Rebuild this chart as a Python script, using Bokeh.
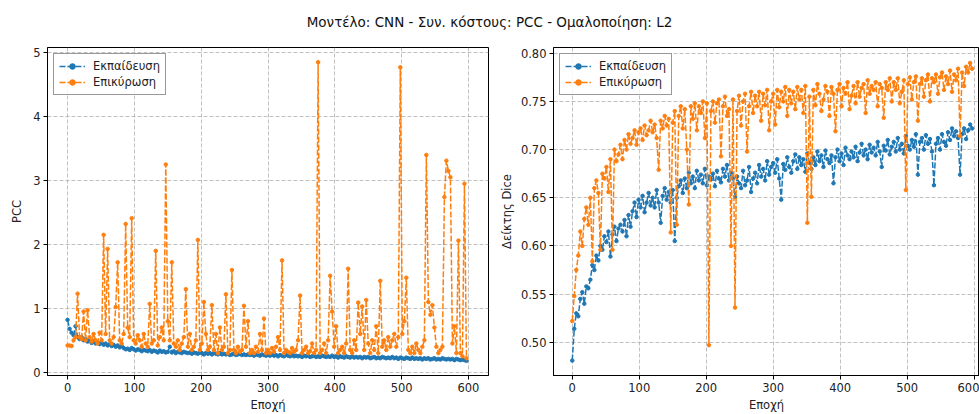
from bokeh.plotting import figure
from bokeh.layouts import column, row
from bokeh.models import Div, Range1d, FixedTicker, PrintfTickFormatter
from bokeh.embed import file_html
from bokeh.resources import INLINE

TITLE = "Μοντέλο: CNN - Συν. κόστους: PCC - Ομαλοποίηση: L2"
LEG_TRAIN = "Εκπαίδευση"
LEG_VAL = "Επικύρωση"
XLABEL = "Εποχή"
YLABEL_L = "PCC"
YLABEL_R = "Δείκτης Dice"

STEP = 3  # one sample every 3 epochs

pcc_train = [
    0.82, 0.68, 0.62, 0.58, 0.72, 0.55, 0.52, 0.55, 0.50, 0.52,
    0.48, 0.50, 0.46, 0.49, 0.45, 0.47, 0.44, 0.46, 0.43, 0.45,
    0.42, 0.44, 0.41, 0.43, 0.40, 0.42, 0.39, 0.41, 0.38, 0.36,
    0.37, 0.35, 0.38, 0.36, 0.34, 0.36, 0.35, 0.33, 0.35, 0.34,
    0.33, 0.35, 0.32, 0.34, 0.33, 0.31, 0.34, 0.32, 0.33, 0.31,
    0.32, 0.40, 0.31, 0.33, 0.30, 0.32, 0.31, 0.30, 0.32, 0.31,
    0.30, 0.31, 0.29, 0.31, 0.30, 0.29, 0.31, 0.30, 0.28, 0.30,
    0.29, 0.30, 0.28, 0.30, 0.29, 0.28, 0.30, 0.28, 0.29, 0.28,
    0.29, 0.27, 0.28, 0.29, 0.27, 0.28, 0.29, 0.27, 0.28, 0.27,
    0.28, 0.27, 0.28, 0.26, 0.28, 0.27, 0.26, 0.28, 0.27, 0.26,
    0.27, 0.26, 0.28, 0.26, 0.27, 0.25, 0.27, 0.26, 0.25, 0.27,
    0.26, 0.25, 0.27, 0.25, 0.26, 0.25, 0.26, 0.24, 0.26, 0.25,
    0.26, 0.24, 0.25, 0.26, 0.24, 0.25, 0.24, 0.26, 0.25, 0.24,
    0.25, 0.24, 0.26, 0.24, 0.25, 0.23, 0.25, 0.24, 0.23, 0.25,
    0.24, 0.23, 0.25, 0.23, 0.24, 0.23, 0.24, 0.22, 0.24, 0.23,
    0.24, 0.22, 0.23, 0.24, 0.22, 0.23, 0.22, 0.24, 0.23, 0.22,
    0.23, 0.22, 0.24, 0.22, 0.23, 0.21, 0.23, 0.22, 0.21, 0.23,
    0.22, 0.21, 0.23, 0.21, 0.22, 0.21, 0.22, 0.20, 0.22, 0.21,
    0.22, 0.20, 0.21, 0.22, 0.20, 0.21, 0.20, 0.22, 0.21, 0.20,
    0.21, 0.20, 0.21, 0.19, 0.21, 0.20, 0.19, 0.20, 0.19, 0.18,
]

pcc_val = [
    0.42, 0.42, 0.41, 0.50, 0.55, 1.23, 0.55, 0.52, 0.95, 0.50,
    0.97, 0.55, 0.48, 0.60, 0.50, 0.45, 0.62, 0.50, 2.15, 0.60,
    1.93, 0.50, 0.45, 0.55, 1.02, 1.72, 0.50, 0.45, 0.60, 2.32,
    0.70, 0.55, 2.41, 0.50, 0.45, 0.58, 0.50, 0.40, 0.60, 0.45,
    0.40, 1.07, 0.45, 0.50, 1.90, 0.42, 0.55, 0.70, 0.50, 3.25,
    0.80, 0.50, 1.72, 0.45, 0.40, 0.50, 0.35, 0.45, 0.55, 1.30,
    0.40, 0.60, 0.35, 0.40, 0.50, 2.07, 0.35, 0.45, 1.10, 0.60,
    0.35, 0.40, 1.05, 0.35, 0.60, 0.30, 0.70, 0.35, 0.40, 1.22,
    0.30, 0.35, 1.60, 0.35, 0.30, 0.40, 0.32, 0.35, 1.04, 0.40,
    0.80, 0.30, 0.35, 0.30, 0.40, 0.32, 0.60, 0.35, 0.84, 0.30,
    0.35, 0.30, 0.38, 0.32, 0.40, 0.55, 0.35, 1.75, 0.30, 0.35,
    0.32, 0.30, 0.38, 0.32, 0.35, 0.50, 1.20, 0.30, 0.35, 0.40,
    0.30, 0.33, 0.45, 0.30, 0.35, 4.85, 0.30, 0.35, 0.45, 0.30,
    0.50, 1.51, 0.95, 0.40, 0.72, 0.30, 0.35, 0.40, 0.30, 0.45,
    1.62, 0.35, 0.30, 0.50, 0.35, 1.09, 0.60, 1.03, 0.35, 1.13,
    0.45, 0.30, 0.50, 0.35, 0.72, 0.30, 1.43, 0.40, 0.50, 0.35,
    0.55, 0.40, 0.50, 0.60, 0.40, 0.55, 4.77, 0.60, 0.80, 1.48,
    0.35, 0.30, 0.40, 0.30, 0.45, 0.35, 0.30, 0.40, 0.50, 3.40,
    1.10, 0.90, 1.05, 0.70, 0.40, 0.30, 0.35, 0.40, 2.74, 3.31,
    3.15, 3.05, 0.45, 0.72, 0.30, 2.06, 0.30, 0.25, 2.95, 0.22,
]

dice_train = [
    0.481, 0.514, 0.530, 0.527, 0.545, 0.552, 0.540, 0.558, 0.556, 0.565,
    0.580, 0.575, 0.590, 0.585, 0.600, 0.596, 0.610, 0.604, 0.615, 0.589,
    0.612, 0.620, 0.605, 0.618, 0.622, 0.615, 0.627, 0.610, 0.632, 0.620,
    0.636, 0.645, 0.630, 0.648, 0.640, 0.652, 0.635, 0.645, 0.655, 0.642,
    0.650, 0.640, 0.658, 0.645, 0.624, 0.652, 0.660, 0.648, 0.656, 0.645,
    0.658, 0.605, 0.650, 0.662, 0.668, 0.655, 0.670, 0.660, 0.676, 0.665,
    0.672, 0.660, 0.678, 0.668, 0.674, 0.665, 0.680, 0.663, 0.672, 0.669,
    0.675, 0.662, 0.678, 0.670, 0.666, 0.680, 0.672, 0.684, 0.668, 0.676,
    0.670, 0.651, 0.672, 0.665, 0.660, 0.678, 0.663, 0.668, 0.682, 0.656,
    0.670, 0.676, 0.665, 0.684, 0.672, 0.680, 0.668, 0.688, 0.674, 0.682,
    0.686, 0.676, 0.690, 0.670, 0.648, 0.685, 0.679, 0.692, 0.682, 0.676,
    0.688, 0.695, 0.680, 0.692, 0.684, 0.690, 0.677, 0.696, 0.686, 0.680,
    0.692, 0.684, 0.698, 0.688, 0.694, 0.682, 0.699, 0.690, 0.686, 0.694,
    0.665, 0.692, 0.700, 0.688, 0.696, 0.684, 0.702, 0.694, 0.690, 0.698,
    0.692, 0.703, 0.688, 0.697, 0.706, 0.694, 0.700, 0.690, 0.705, 0.697,
    0.702, 0.694, 0.708, 0.698, 0.682, 0.704, 0.699, 0.710, 0.695, 0.703,
    0.708, 0.698, 0.712, 0.700, 0.706, 0.696, 0.714, 0.704, 0.700, 0.710,
    0.703, 0.716, 0.674, 0.708, 0.712, 0.700, 0.715, 0.706, 0.711, 0.698,
    0.663, 0.706, 0.712, 0.700, 0.716, 0.708, 0.704, 0.718, 0.710, 0.722,
    0.714, 0.719, 0.712, 0.674, 0.716, 0.722, 0.711, 0.720, 0.726, 0.722,
]

dice_val = [
    0.522, 0.548, 0.575, 0.590, 0.615, 0.600, 0.628, 0.640, 0.622, 0.650,
    0.584, 0.660, 0.668, 0.655, 0.596, 0.675, 0.670, 0.682, 0.656, 0.690,
    0.596, 0.700, 0.688, 0.695, 0.705, 0.690, 0.710, 0.700, 0.716, 0.706,
    0.712, 0.720, 0.705, 0.718, 0.722, 0.710, 0.725, 0.715, 0.720, 0.730,
    0.718, 0.726, 0.712, 0.679, 0.730, 0.722, 0.735, 0.725, 0.732, 0.614,
    0.728, 0.740, 0.622, 0.735, 0.745, 0.722, 0.742, 0.700, 0.643, 0.745,
    0.732, 0.748, 0.720, 0.745, 0.738, 0.750, 0.712, 0.748, 0.497, 0.740,
    0.750, 0.728, 0.748, 0.752, 0.693, 0.745, 0.755, 0.735, 0.742, 0.600,
    0.752, 0.536, 0.740, 0.756, 0.725, 0.750, 0.758, 0.698, 0.745, 0.760,
    0.738, 0.756, 0.745, 0.760, 0.730, 0.758, 0.746, 0.762, 0.720, 0.750,
    0.758, 0.726, 0.762, 0.744, 0.760, 0.750, 0.765, 0.735, 0.762, 0.748,
    0.760, 0.742, 0.765, 0.752, 0.762, 0.738, 0.766, 0.624, 0.755, 0.651,
    0.762, 0.746, 0.768, 0.758, 0.740, 0.752, 0.766, 0.760, 0.735, 0.765,
    0.758, 0.719, 0.762, 0.768, 0.745, 0.764, 0.758, 0.770, 0.742, 0.756,
    0.766, 0.748, 0.770, 0.755, 0.764, 0.768, 0.738, 0.772, 0.758, 0.766,
    0.762, 0.770, 0.745, 0.768, 0.764, 0.733, 0.770, 0.762, 0.774, 0.750,
    0.770, 0.762, 0.774, 0.748, 0.760, 0.772, 0.658, 0.768, 0.775, 0.752,
    0.770, 0.776, 0.730, 0.768, 0.774, 0.755, 0.772, 0.778, 0.750, 0.774,
    0.770, 0.778, 0.758, 0.775, 0.780, 0.762, 0.776, 0.768, 0.782, 0.760,
    0.778, 0.772, 0.784, 0.714, 0.780, 0.766, 0.786, 0.780, 0.790, 0.784,
]

epochs = list(range(0, STEP * len(pcc_train), STEP))

x_ticks = [0, 100, 200, 300, 400, 500, 600]
y_ticks_l = [0, 1, 2, 3, 4, 5]
y_ticks_r = [0.50, 0.55, 0.60, 0.65, 0.70, 0.75, 0.80]

BLUE = "#1f77b4"
ORANGE = "#ff7f0e"
FONT = "DejaVu Sans"
FS = "11.5px"


def make_fig(width, bl, br, xr, yr, yticks, ylabel, ytrain, yval, fmt=None, lab_standoff=6):
    p = figure(width=width, height=374, output_backend="svg", toolbar_location=None,
               x_range=Range1d(*xr), y_range=Range1d(*yr), margin=0,
               min_border_left=bl, min_border_right=br, min_border_top=7, min_border_bottom=38)
    p.outline_line_color = "black"
    p.outline_line_width = 1
    p.background_fill_color = "white"
    p.border_fill_color = "white"
    for ax in (p.xaxis[0], p.yaxis[0]):
        ax.major_tick_in = 0
        ax.major_tick_out = 4
        ax.minor_tick_line_color = None
        ax.axis_line_color = "black"
        ax.major_tick_line_color = "black"
        ax.major_label_text_font = FONT
        ax.major_label_text_font_size = FS
        ax.major_label_text_color = "#222222"
        ax.axis_label_text_font = FONT
        ax.axis_label_text_font_size = FS
        ax.axis_label_text_font_style = "normal"
        ax.axis_label_text_color = "#222222"
        ax.major_label_standoff = 3
    p.xaxis.ticker = FixedTicker(ticks=x_ticks)
    p.yaxis.ticker = FixedTicker(ticks=yticks)
    if fmt:
        p.yaxis.formatter = PrintfTickFormatter(format=fmt)
    p.xaxis.axis_label = XLABEL
    p.yaxis.axis_label = ylabel
    p.xaxis.axis_label_standoff = 3
    p.yaxis.axis_label_standoff = lab_standoff
    p.grid.grid_line_color = "#b0b0b0"
    p.grid.grid_line_dash = "4 2"
    p.grid.grid_line_width = 0.8

    for ys, col, lab in ((ytrain, BLUE, LEG_TRAIN), (yval, ORANGE, LEG_VAL)):
        p.line(epochs, ys, color=col, line_width=1.5, line_dash="6 2", legend_label=lab)
        p.scatter(epochs, ys, color=col, size=3.5, legend_label=lab)

    lg = p.legend[0]
    lg.location = "top_left"
    lg.margin = 6
    lg.padding = 5
    lg.spacing = 2
    lg.label_text_font = FONT
    lg.label_text_font_size = FS
    lg.label_text_color = "#222222"
    lg.glyph_width = 26
    lg.glyph_height = 14
    lg.label_height = 14
    lg.label_standoff = 8
    lg.border_line_color = "#333333"
    lg.border_line_width = 1
    lg.background_fill_alpha = 0.85
    return p


p1 = make_fig(496, 47, 8, (-30, 630), (-0.05, 5.08), y_ticks_l, YLABEL_L, pcc_train, pcc_val)
p2 = make_fig(483, 55, 0, (-28, 608), (0.4655, 0.806), y_ticks_r, YLABEL_R, dice_train, dice_val,
              fmt="%.2f", lab_standoff=4)

title = Div(text=f'<div style="padding-left:27px;width:952px;text-align:center;font-family:\'DejaVu Sans\';font-size:13.5px;color:#111;padding-top:13px">{TITLE}</div>',
            width=979, height=40, margin=0)

layout = column(title, row(p1, p2, spacing=0, margin=0), spacing=0, margin=0)

open("out.html", "w").write(file_html(layout, INLINE))
